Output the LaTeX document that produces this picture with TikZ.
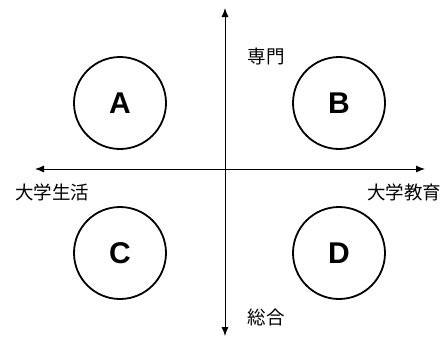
\documentclass[tikz,border=0pt]{standalone}
\usepackage{fontspec}
\setmainfont{Liberation Sans}
\newfontfamily\jpfont{Noto Sans CJK JP}
\usetikzlibrary{arrows.meta}
\begin{document}
\begin{tikzpicture}[x=1pt,y=-1pt,
  quad/.style={circle,draw,line width=1.8pt,minimum size=92pt,inner sep=0pt,font=\fontsize{30}{30}\selectfont\bfseries},
  axislbl/.style={font=\jpfont\fontsize{18.5}{18.5}\selectfont,inner sep=0pt},
  axis/.style={line width=0.9pt,{Latex[length=9pt,width=7pt]}-{Latex[length=9pt,width=7pt]}}]
\useasboundingbox (0,0) rectangle (444,338);
\coordinate (top) at (225,8);
\coordinate (bot) at (225,336);
\coordinate (lft) at (35,169);
\coordinate (rgt) at (425,169);
\draw[axis] (lft) -- (rgt);
\draw[axis] (bot) -- (top);
\node[quad] (A) at (120,103) {A};
\node[quad] (B) at (339,103) {B};
\node[quad] (C) at (120,253) {C};
\node[quad] (D) at (339,253) {D};
\node[axislbl] (senmon) at (266,57) {専門};
\node[axislbl] (sogo) at (266,317) {総合};
\node[axislbl] (seikatsu) at (52,192) {大学生活};
\node[axislbl] (kyoiku) at (404,192) {大学教育};
\end{tikzpicture}
\end{document}
